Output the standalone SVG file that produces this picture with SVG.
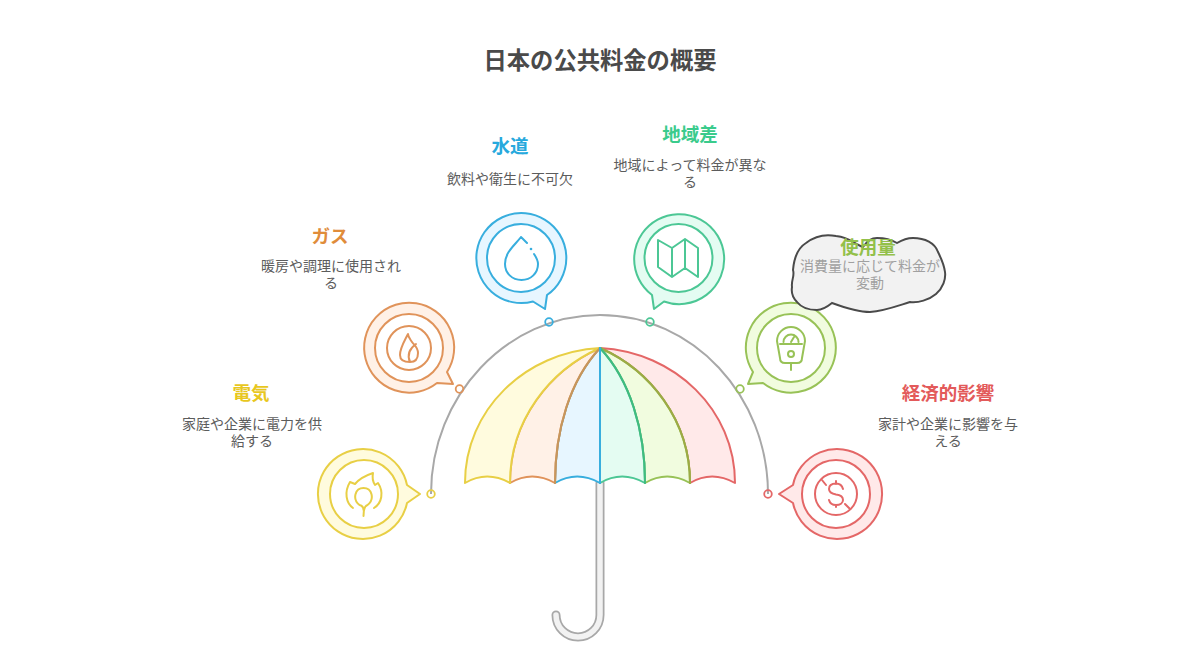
<svg xmlns="http://www.w3.org/2000/svg" width="1200" height="672" viewBox="0 0 1200 672">
<style>
text{font-family:"Noto Sans CJK JP","Noto Sans",sans-serif;text-anchor:middle}
.t{font-size:23.300px;font-weight:700;fill:#4a4a4a}
.h{font-size:18.500px;font-weight:700}
.d{font-size:14px;fill:#5c5c5c}
.c{fill:#a0a0a0}
.s{fill:none;stroke-width:2;stroke-linecap:round;stroke-linejoin:round}
.w{fill:#fff;stroke-width:2}
.dot{fill:none;stroke-width:1.800}
.y{stroke:#e8cf45}.yf{fill:#fffbde}.o{stroke:#e0935a}.of{fill:#fff1e7}.b{stroke:#38aede}.bf{fill:#e7f6ff}
.g{stroke:#4cc795}.gf{fill:#e4fcf2}.l{stroke:#98c257}.lf{fill:#f1fcdf}.r{stroke:#e46767}.rf{fill:#ffe9e9}
</style>
<rect width="1200" height="672" fill="#fff"/>
<text class="t" x="600" y="69">日本の公共料金の概要</text>
<g id="connectors">
<path d="M431 494C431 396 507 315 600 315C693 315 768 396 768 494" fill="none" stroke="#a8a8a8" stroke-width="2"/>
<circle class="dot y" cx="431" cy="494" r="3.800"/>
<circle class="dot o" cx="459.500" cy="389" r="3.800"/>
<circle class="dot b" cx="549" cy="322" r="3.800"/>
<circle class="dot g" cx="650" cy="322" r="3.800"/>
<circle class="dot l" cx="740" cy="389" r="3.800"/>
<circle class="dot r" cx="768" cy="494" r="3.800"/>
</g>
<g id="umbrella">
<path d="M600 483V615A22 22 0 0 1 556 615" fill="none" stroke="#a8a8a8" stroke-width="9" stroke-linecap="round"/>
<path d="M600 483V615A22 22 0 0 1 556 615" fill="none" stroke="#f2f2f2" stroke-width="5.500" stroke-linecap="round"/>
<path class="s r rf" d="M600 348C675 352 735 410 735 483Q712 470 690 483C690 420 650 370 600 348Z"/>
<path class="s l lf" d="M600 348C650 370 690 420 690 483Q667 470 645 483C645 430 630 380 600 348Z"/>
<path class="s g gf" d="M600 348C630 380 645 430 645 483Q622 470 600 483V348Z"/>
<path class="s b bf" d="M600 348V483Q577 470 555 483C555 430 570 380 600 348Z"/>
<path class="s o of" d="M600 348C570 380 555 430 555 483Q532 470 510 483C510 420 550 370 600 348Z"/>
<path class="s y yf" d="M600 348C550 370 510 420 510 483Q487 470 465 483C465 410 525 352 600 348Z"/>
<path class="s" stroke="#c6965c" d="M600 348C570 380 555 430 555 483"/>
<path class="s" stroke="#9cab45" d="M600 348C650 370 690 420 690 483"/>
<path class="s" stroke="#40bb80" d="M600 348C630 380 645 430 645 483"/>
<path class="s b" d="M600 348V483"/>
</g>
<g id="node-electric">
<path class="s y yf" d="M407 485L420 494L407 503A45 45 0 1 1 407 485Z"/>
<circle class="w y" cx="364" cy="494" r="34"/>
<path class="s y" d="M353 508C346 503 344 492 350 482L355 484C360 478 367 475 373 473C372 478 373 482 375 485L378 483C384 492 382 503 374 508"/>
<path class="s y" d="M359.500 505C352 499 355 488 363.500 488C372 488 375 499 367.500 505Q363.500 506 363.500 516M359.500 505Q363.500 506 363.500 510"/>
<text class="h" x="251" y="400" fill="#e8c71e">電気</text>
<text class="d" x="252" y="429">家庭や企業に電力を供</text>
<text class="d" x="252" y="446">給する</text>
</g>
<g id="node-gas">
<path class="s o of" d="M447 372L453 384L437 383A45 45 0 1 1 447 372Z"/>
<circle class="w o" cx="409" cy="348" r="34"/>
<circle class="s o" cx="409" cy="348" r="22"/>
<path class="s o" d="M408 334C404 342 400 348 400 355C400 360 404 362 410 362C415 362 418 359 418 353C418 347 414 345 412 342C410 339 408 337 408 334ZM410 362C407 355 409 349 416 344"/>
<text class="h" x="330" y="243" fill="#e08c3a">ガス</text>
<text class="d" x="331" y="271">暖房や調理に使用され</text>
<text class="d" x="331" y="288">る</text>
</g>
<g id="node-water">
<path class="s b bf" d="M547 295L545 309L533 301.500A45 45 0 1 1 547 295Z"/>
<circle class="w b" cx="521" cy="258" r="34"/>
<path class="s b" d="M527 243L521 237C515 245 505 252 505 264C505 273 512 280 521.500 280C531 280 538 273 538 264C538 260 536 257 534 254"/>
<circle cx="531" cy="249" r="1.300" fill="#38aede"/>
<text class="h" x="510" y="153" fill="#27a9dd">水道</text>
<text class="d" x="510" y="184">飲料や衛生に不可欠</text>
</g>
<g id="node-region">
<path class="s g gf" d="M664 301.500L654 309L652 295A45 45 0 1 1 664 301.500Z"/>
<circle class="w g" cx="678.500" cy="258" r="34"/>
<path class="s g" d="M658 240L672 248L685 239L698 248V277L685 268L672 277L658 267ZM672 248V277M685 239V268"/>
<text class="h" x="690" y="141" fill="#3acb8c">地域差</text>
<text class="d" x="690" y="170">地域によって料金が異な</text>
<text class="d" x="690" y="187">る</text>
</g>
<g id="node-usage">
<path class="s l lf" d="M763 383L748 384L753 372A45 45 0 1 1 763 383Z"/>
<circle class="w l" cx="791" cy="348" r="34"/>
<path class="s l" d="M777 341A14 14 0 0 1 805 341L802 358Q802 363 797 363H785Q780 363 780 358ZM791 363V370M783.500 342A7.500 7.500 0 0 1 798.500 342M780 344H802M791 342L794 337"/>
<circle class="s l" cx="791" cy="354" r="3"/>
<path d="M792 287C791 280 795 276 793 270C794 258 798 248 806 243C815 236 826 234 836 236C844 237 850 240 853 242C857 244 860 246 863 247C867 241 872 238 877 238C884 238 892 240 897 243C902 240 907 238 913 238C925 238 935 243 938 252C941 258 944 264 945 272C946 279 943 288 936 294C929 300 918 303 910 302C897 306 884 311 870 312C857 312 843 307 832 303C827 307 822 310 817 310C808 310 801 307 797 302C793 298 791 293 792 287Z" fill="#f2f2f2" stroke="#4a4a4a" stroke-width="2"/>
<text class="h" x="868" y="254" fill="#93c04a">使用量</text>
<text class="d c" x="870" y="271" style="fill:#a0a0a0">消費量に応じて料金が</text>
<text class="d c" x="870" y="288" style="fill:#a0a0a0">変動</text>
</g>
<g id="node-economy">
<path class="s r rf" d="M793 503L779 494L793 485A45 45 0 1 1 793 503Z"/>
<circle class="w r" cx="836" cy="494" r="34"/>
<circle class="s r" cx="836" cy="494" r="21"/>
<path class="s r" d="M843 489C842 485 840 483.500 836 483.500C831 483.500 829 486 829 489C829 493 833 494 836 494.500C840 495 843 497 843 500C843 503 840 505 836 505C832 505 830 504 829 500M836 481V484M836 505V507M822 480L826 485M845 504L850 509"/>
<text class="h" x="948" y="400" fill="#e35a5a">経済的影響</text>
<text class="d" x="948" y="429">家計や企業に影響を与</text>
<text class="d" x="948" y="446">える</text>
</g>
</svg>
